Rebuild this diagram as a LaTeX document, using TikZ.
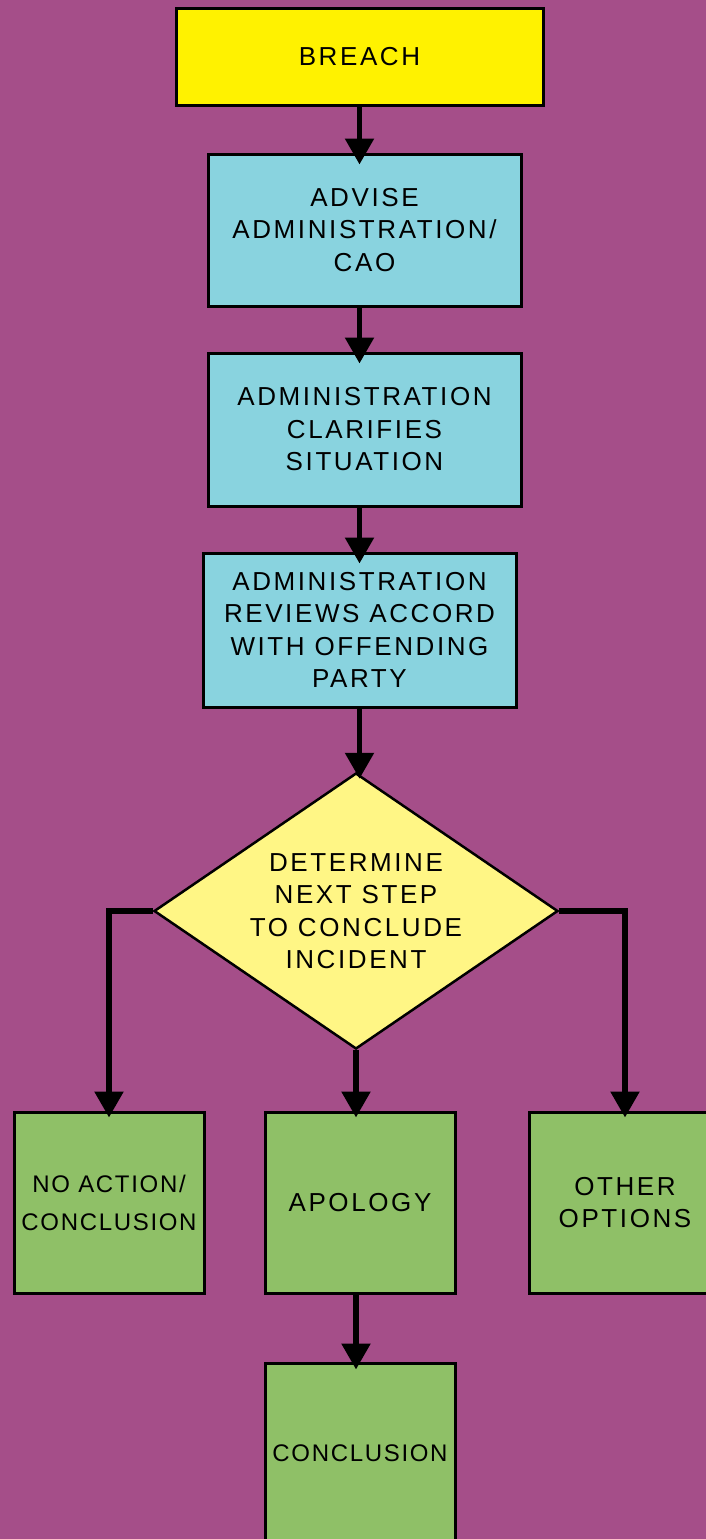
\documentclass[tikz,border=0pt]{standalone}
\usepackage{fontspec}
\setmainfont{Liberation Sans}[LetterSpace=10]
\newfontfamily\tightfont{Liberation Sans}[LetterSpace=7]
\usetikzlibrary{shapes.geometric,arrows.meta}
\definecolor{bgpurple}{HTML}{A54E89}
\definecolor{breachyellow}{HTML}{FFF200}
\definecolor{stepblue}{HTML}{89D3DF}
\definecolor{decideyellow}{HTML}{FFF685}
\definecolor{outgreen}{HTML}{8FC067}
\tikzset{
  box/.style={draw=black, line width=3pt, rectangle, inner sep=0pt, align=center,
    font=\fontsize{26}{32.5}\selectfont},
  bluebox/.style={box, fill=stepblue, minimum width=313pt},
  greenbox/.style={box, fill=outgreen, minimum width=190pt, minimum height=181pt},
  decide/.style={draw=black, line width=2.5pt, diamond, fill=decideyellow, inner sep=0pt,
    aspect=1.46, minimum width=404pt, minimum height=276pt, align=center,
    font=\fontsize{26}{32.5}\selectfont},
  flow/.style={draw=black, line width=5.5pt, line join=miter,
    -{Triangle[width=28pt,length=26pt]}}
}
\begin{document}
\begin{tikzpicture}[x=1pt,y=-1pt]
\useasboundingbox (0,0) rectangle (706,1539);
\clip (0,0) rectangle (706,1539);
\fill[bgpurple] (0,0) rectangle (706,1539);

% process steps
\node[box, fill=breachyellow, minimum width=367pt, minimum height=97pt] (breach) at (359.5,56.5) {BREACH};
\node[bluebox, minimum height=152pt] (advise) at (364.5,230) {ADVISE\\ADMINISTRATION/\\CAO};
\node[bluebox, minimum height=153pt] (clarify) at (364.5,429.5) {ADMINISTRATION\\CLARIFIES\\SITUATION};
\node[bluebox, minimum height=154pt] (review) at (359.5,630) {ADMINISTRATION\\REVIEWS ACCORD\\WITH OFFENDING\\PARTY};

% decision
\node[decide] (decide) at (356,911) {DETERMINE\\NEXT STEP\\TO CONCLUDE\\INCIDENT};

% outcomes
\node[greenbox, font=\tightfont\fontsize{24}{38}\selectfont] (noaction) at (109,1202.5) {NO ACTION/\\CONCLUSION};
\node[greenbox] (apology) at (360,1202.5) {APOLOGY};
\node[greenbox, minimum width=192pt] (other) at (625,1202.5) {OTHER\\OPTIONS};
\node[greenbox, font=\tightfont\fontsize{24}{30}\selectfont] (conclusion) at (360,1453.5) {CONCLUSION};

% connectors: arrow tips reach a little way into the box below
\draw[flow] (breach.south) -- ([yshift=-12pt]breach.south |- advise.north);
\draw[flow] (breach.south |- advise.south) -- ([yshift=-12pt]breach.south |- clarify.north);
\draw[flow] (breach.south |- clarify.south) -- ([yshift=-12pt]breach.south |- review.north);
\draw[flow] (review.south) -- ([yshift=-7pt]review.south |- decide.north);
\draw[flow] (decide.west) -| ([yshift=-7pt]noaction.north);
\draw[flow] (decide.south) -- ([yshift=-7pt]decide.south |- apology.north);
\draw[flow] (decide.east) -| ([yshift=-7pt]other.north);
\draw[flow] (decide.south |- apology.south) -- ([yshift=-8pt]decide.south |- conclusion.north);
\end{tikzpicture}
\end{document}
